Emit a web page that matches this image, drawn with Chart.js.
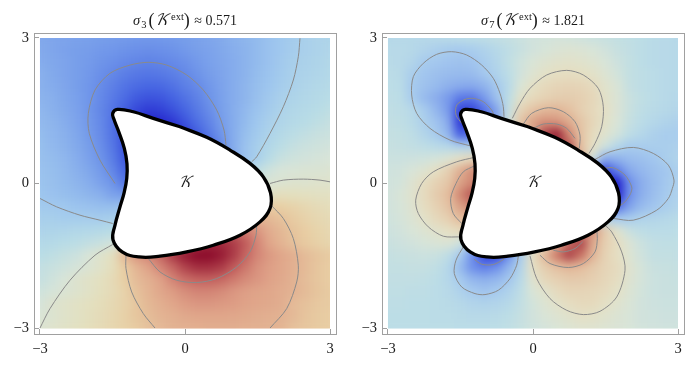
<!DOCTYPE html>
<html>
<head>
<meta charset="utf-8">
<style>
body { margin: 0; background: #fff; }
canvas { display: block; position: absolute; top: 0; }
</style>
<script src="https://cdn.jsdelivr.net/npm/chart.js@4/dist/chart.umd.min.js"></script>
</head>
<body>
<canvas id="leftChart" width="348" height="370" style="left:0"></canvas>
<canvas id="rightChart" width="349" height="370" style="left:348px"></canvas>
<script>
// grid of the colour field, y runs from top to bottom row
const gridX = [-3,-2.75,-2.5,-2.25,-2,-1.75,-1.5,-1.25,-1,-.75,-.5,-.25,0,.25,.5,.75,1,1.25,1.5,1.75,2,2.25,2.5,2.75,3];
const gridY = [3,2.75,2.5,2.25,2,1.75,1.5,1.25,1,.75,.5,.25,0,-.25,-.5,-.75,-1,-1.25,-1.5,-1.75,-2,-2.25,-2.5,-2.75,-3];
const tickValues = [-3, 0, 3];

const leftField = [
[-42,-43,-44,-45,-46,-47,-48,-49,-50,-50,-50,-49,-47,-45,-43,-41,-38,-35,-32,-28,-25,-22,-19,-17,-16],
[-41,-43,-45,-47,-48,-50,-51,-53,-54,-55,-54,-53,-50,-47,-45,-42,-39,-36,-32,-28,-25,-21,-19,-17,-15],
[-40,-42,-44,-47,-49,-52,-54,-57,-59,-60,-59,-57,-54,-50,-46,-43,-40,-36,-32,-28,-24,-20,-18,-16,-14],
[-38,-41,-44,-47,-50,-54,-58,-62,-65,-66,-65,-62,-58,-53,-48,-44,-40,-36,-31,-27,-23,-19,-17,-15,-13],
[-37,-40,-43,-47,-51,-56,-61,-67,-71,-73,-72,-68,-62,-57,-51,-45,-40,-35,-30,-26,-21,-18,-15,-13,-12],
[-36,-38,-42,-46,-51,-57,-64,-71,-78,-81,-80,-75,-68,-61,-53,-46,-40,-35,-29,-24,-19,-16,-14,-12,-10],
[-34,-37,-41,-45,-51,-58,-66,-76,-85,-90,-88,-82,-74,-65,-56,-47,-40,-33,-27,-22,-17,-14,-12,-10,-8],
[-33,-35,-39,-44,-50,-57,-67,-78,-92,-100,-98,-92,-81,-70,-60,-49,-40,-32,-25,-19,-15,-12,-10,-8,-6],
[-31,-34,-37,-42,-49,-56,-67,-80,-92,-96,-98,-100,-92,-78,-65,-52,-40,-30,-23,-17,-12,-9,-7,-5,-4],
[-30,-33,-36,-41,-47,-54,-65,-80,-90,-92,-95,-98,-100,-92,-75,-58,-40,-28,-20,-14,-9,-6,-4,-3,-2],
[-29,-31,-34,-39,-45,-52,-62,-78,-88,-90,-92,-95,-98,-100,-90,-65,-42,-28,-20,-10,-5,-3,-2,-1,0],
[-28,-30,-33,-37,-42,-49,-58,-72,-78,-80,-80,-75,-70,-60,-50,-40,-25,-15,-8,-3,0,1,2,2,3],
[-27,-29,-32,-35,-39,-45,-52,-65,-68,-65,-60,-50,-40,-30,-20,-10,-5,-2,0,2,3,4,4,5,5],
[-26,-28,-30,-32,-35,-38,-45,-48,-48,-40,-30,-20,-10,0,5,8,8,8,7,7,12,11,10,9,9],
[-23,-24,-25,-27,-28,-30,-30,-28,-25,-15,-5,5,15,20,25,25,28,28,25,28,25,22,18,15,13],
[-20,-20,-21,-21,-21,-21,-20,-18,-15,-5,5,15,25,35,40,45,50,45,40,38,33,27,22,18,16],
[-17,-16,-15,-14,-13,-12,-10,-8,-5,5,15,30,45,55,65,70,70,65,55,45,38,31,26,21,18],
[-13,-12,-10,-9,-7,-5,-2,2,5,15,30,50,70,85,90,90,85,75,60,48,40,33,28,23,20],
[-10,-8,-6,-4,0,5,10,38,55,60,70,85,95,100,100,95,85,72,60,53,48,43,36,31,27],
[-7,-5,-3,-1,2,6,12,26,40,50,60,70,82,88,88,85,75,65,56,51,47,42,36,30,26],
[-6,-3,0,4,7,10,15,25,36,42,50,60,68,72,73,70,64,58,54,50,46,41,35,30,26],
[-3,-1,2,4,7,11,15,22,32,40,47,52,57,60,60,58,54,51,49,47,44,41,36,31,27],
[-1,4,6,8,10,13,17,22,30,38,43,48,52,54,54,53,52,50,48,46,44,36,33,29,27],
[1,3,6,8,11,14,18,23,30,35,40,43,46,48,48,48,47,46,44,43,41,37,31,28,26],
[3,5,7,9,12,15,19,23,27,33,37,41,42,43,44,44,44,43,42,41,40,33,30,28,26]
];

const rightField = [
[-19,-19,-19,-19,-18,-17,-16,-15,-14,-12,-10,-7,-4,-3,-2,-3,-5,-7,-9,-11,-13,-15,-17,-18,-19],
[-18,-18,-19,-22,-26,-29,-30,-28,-24,-19,-14,-9,-4,-1,3,6,4,0,-4,-9,-12,-15,-17,-18,-19],
[-17,-18,-21,-29,-31,-33,-34,-33,-28,-21,-13,-5,2,8,13,14,12,7,0,-6,-11,-15,-17,-18,-19],
[-16,-17,-27,-32,-35,-37,-38,-37,-31,-24,-15,-4,7,17,21,22,21,16,6,-3,-11,-14,-16,-18,-19],
[-15,-16,-29,-34,-38,-43,-46,-47,-42,-31,-18,2,19,25,28,29,28,24,12,2,-10,-14,-16,-18,-19],
[-14,-15,-28,-38,-45,-55,-67,-68,-55,-35,-15,15,25,30,33,34,32,27,15,3,-8,-13,-16,-18,-20],
[-13,-14,-18,-28,-40,-54,-85,-85,-70,-50,-10,28,40,47,48,42,32,25,18,3,-8,-14,-17,-19,-21],
[-12,-13,-17,-25,-33,-46,-90,-85,-70,-50,-5,40,55,62,60,52,38,27,16,1,-10,-16,-20,-23,-25],
[-10,-11,-14,-21,-29,-40,-75,-70,-60,-40,-20,10,50,85,95,65,40,23,10,-3,-14,-20,-25,-28,-28],
[-9,-10,-12,-14,-17,-20,-24,-25,-15,-5,5,20,45,70,85,80,42,20,-5,-20,-29,-28,-27,-27,-25],
[-7,-7,-6,-5,-2,5,18,25,25,25,25,30,45,60,70,70,50,-5,-45,-42,-37,-35,-32,-27,-23],
[-5,-4,0,8,20,32,50,62,65,60,50,45,45,30,10,-10,-30,-60,-85,-65,-47,-40,-35,-32,-26],
[-4,-3,8,22,30,38,55,65,70,60,40,20,0,-20,-35,-50,-65,-80,-95,-100,-60,-45,-37,-31,-25],
[-4,0,10,24,34,44,65,80,70,50,30,10,-10,-30,-50,-60,-75,-90,-95,-100,-60,-44,-36,-30,-24],
[-4,-1,8,22,30,40,55,65,50,40,30,15,0,-20,-40,-60,-75,-85,-85,-70,-50,-38,-32,-27,-22],
[-5,-2,5,15,25,32,45,40,35,30,25,15,0,-10,-20,-30,-35,-30,-20,-28,-28,-23,-21,-19,-17],
[-6,-4,0,6,13,20,25,25,20,20,20,20,20,30,40,50,60,60,35,12,-8,-14,-16,-16,-15],
[-8,-6,-4,-1,2,4,-5,-30,-40,-40,-30,-20,0,20,50,75,85,52,32,22,4,-7,-12,-13,-13],
[-10,-9,-8,-7,-8,-14,-30,-60,-85,-85,-60,-28,22,47,70,85,72,48,30,21,6,-5,-11,-11,-12],
[-11,-11,-10,-10,-13,-20,-38,-60,-65,-60,-42,-22,20,33,42,47,44,36,28,24,10,-2,-8,-9,-10],
[-12,-12,-12,-13,-15,-20,-30,-40,-43,-40,-32,-18,10,26,31,35,35,32,27,22,8,-2,-7,-8,-9],
[-13,-13,-14,-14,-16,-18,-24,-30,-33,-30,-24,-14,2,12,24,28,28,27,24,17,5,-3,-7,-8,-8],
[-14,-14,-15,-15,-16,-17,-19,-22,-23,-22,-19,-12,-3,6,15,22,25,25,19,10,2,-4,-6,-7,-7],
[-15,-15,-15,-15,-16,-16,-17,-18,-18,-17,-15,-10,-4,1,7,13,18,17,11,5,0,-4,-5,-6,-6],
[-15,-15,-15,-15,-15,-15,-16,-16,-16,-15,-13,-9,-5,-2,2,6,9,9,6,3,0,-3,-4,-5,-5]
];

const kiteOutline = [
[-.103,1.165],[.449,.946],[.931,.683],[1.345,.408],[1.62,.13],[1.77,-.2],[1.76,-.52],
[1.552,-.801],[1.138,-1.076],[.586,-1.283],[.035,-1.421],[-.517,-1.51],[-.95,-1.525],[-1.3,-1.42],
[-1.49,-1.17],[-1.448,-.869],[-1.345,-.49],[-1.26,-.2],[-1.205,.1],[-1.2,.4],[-1.255,.72],
[-1.37,1.06],[-1.47,1.32],[-1.496,1.442],[-1.401,1.525],[-1.07,1.475],[-.656,1.339],[-.103,1.165]
];

const leftContours = [
[[-1.448,-.007],[-1.759,.476],[-1.98,1.028],[-2,1.442],[-1.862,1.924],[-1.552,2.27],[-1.138,2.44],[-.759,2.497],[-.379,2.44],[.035,2.235],[.379,1.924],[.656,1.51],[.807,1.097],[.848,.786]],
[[2.379,2.994],[2.344,2.613],[2.241,2.131],[2.034,1.579],[1.759,1.028],[1.483,.544],[1.38,.441]],
[[1.759,-.007],[2.034,.062],[2.448,.083],[2.793,.062],[3,.027]],
[[-3,-.317],[-2.655,-.49],[-2.173,-.662],[-1.759,-.766],[-1.496,-.834]],
[[-3,-2.994],[-2.793,-2.593],[-2.379,-2.007],[-1.862,-1.49],[-1.496,-1.268]],
[[-1.221,-1.49],[-1.221,-1.765],[-1.103,-2.249],[-.863,-2.696],[-.621,-2.994]],
[[1.759,-2.994],[2.104,-2.593],[2.311,-2.042],[2.344,-1.697],[2.241,-1.144],[2.034,-.73],[1.794,-.47]],
[[-.759,-1.558],[-.517,-1.835],[-.172,-2.007],[.242,-2.055],[.656,-1.972],[1.07,-1.732],[1.345,-1.421],[1.469,-1.076],[1.483,-.834]]
];

const rightContours = [
[[-1.304,.772],[-1.717,.89],[-2.131,1.132],[-2.406,1.442],[-2.51,1.821],[-2.476,2.2],[-2.27,2.476],[-1.993,2.662],[-1.683,2.717],[-1.372,2.648],[-1.062,2.441],[-.821,2.166],[-.683,1.856],[-.614,1.579],[-.6,1.372]],
[[-1.475,1.235],[-1.593,1.407],[-1.579,1.614],[-1.407,1.732],[-1.235,1.752],[-1.028,1.683],[-.855,1.51],[-.807,1.407]],
[[-.428,1.339],[-.269,1.649],[-.062,1.959],[.283,2.235],[.697,2.331],[1.041,2.235],[1.351,1.959],[1.455,1.579],[1.421,1.166],[1.283,.821],[1.159,.614]],
[[-.2,1.221],[-.027,1.442],[.317,1.559],[.628,1.476],[.869,1.269],[.972,.993],[.959,.717]],
[[.007,1.132],[.214,1.221],[.49,1.221],[.697,1.132],[.869,.925]],
[[1.283,.49],[1.593,.648],[2.075,.738],[2.489,.614],[2.8,.372],[2.917,.062],[2.883,-.11],[2.8,-.317],[2.56,-.559],[2.075,-.766],[1.662,-.73]],
[[1.455,.304],[1.662,.317],[1.904,.166],[2.042,-.077],[2.02,-.213],[1.904,-.386],[1.794,-.469]],
[[-1.221,.531],[-1.579,.441],[-2.063,.234],[-2.303,-.007],[-2.427,-.352],[-2.373,-.627],[-2.166,-.904],[-1.856,-1.097],[-1.51,-1.111]],
[[-1.221,.352],[-1.442,.234],[-1.593,-.007],[-1.703,-.317],[-1.65,-.627],[-1.475,-.834]],
[[-1.442,-1.318],[-1.593,-1.593],[-1.628,-1.869],[-1.475,-2.146],[-1.2,-2.283],[-.993,-2.303],[-.718,-2.214],[-.476,-1.973],[-.337,-1.697],[-.304,-1.504]],
[[-1.221,-1.573],[-1.062,-1.676],[-.821,-1.683],[-.6,-1.573]],
[[-.062,-1.504],[.076,-1.973],[.352,-2.386],[.697,-2.628],[1.041,-2.717],[1.386,-2.649],[1.732,-2.352],[1.904,-1.8],[1.835,-1.421],[1.628,-1.008],[1.49,-.869]],
[[.145,-1.49],[.352,-1.662],[.73,-1.744],[1.041,-1.662],[1.283,-1.421],[1.331,-1.145],[1.318,-.973]],
[[.42,-1.386],[.628,-1.421],[.869,-1.352],[1.028,-1.214]]
];

const leftStops = [
[-100,'#2222cc'],[-75,'#4463e2'],[-50,'#7399ea'],[-25,'#a0c8ee'],[-10,'#b8dce6'],[0,'#d8e4d8'],
[10,'#e3e0c0'],[25,'#e8cfa4'],[50,'#dfa288'],[75,'#c05a5a'],[100,'#8b0a2a']
];
const rightStops = [
[-100,'#2020cc'],[-80,'#3a50e0'],[-60,'#6f90ea'],[-30,'#a6caee'],[-15,'#bcdde6'],[0,'#d8e4d8'],
[20,'#e5e0c4'],[45,'#e4bc9c'],[70,'#cc7a68'],[100,'#8b0a2a']
];

const serif = '"Liberation Serif", serif';
const frameColor = '#a0a0a0';
const contourColor = '#8a8a8a';

function hexToRgb(hex) {
    return [1, 3, 5].map((i) => parseInt(hex.slice(i, i + 2), 16));
}

function fieldColor(v, stops) {
    for (let i = 1; i < stops.length; i++) {
        if (v <= stops[i][0]) {
            const a = stops[i - 1], b = stops[i];
            const t = (v - a[0]) / (b[0] - a[0]);
            const ca = hexToRgb(a[1]), cb = hexToRgb(b[1]);
            return 'rgb(' + ca.map((c, k) => Math.round(c + (cb[k] - c) * t)).join(',') + ')';
        }
    }
    return stops[stops.length - 1][1];
}

function toPoints(list) {
    return list.map((p) => ({x: p[0], y: p[1]}));
}

// cells are blurred right after they are drawn, everything else comes later
const smoothField = {
    id: 'smoothField',
    afterDatasetDraw(chart, args) {
        if (args.index !== 0) return;
        const {ctx, canvas} = chart;
        const {x, y} = chart.scales;
        const copy = document.createElement('canvas');
        copy.width = canvas.width;
        copy.height = canvas.height;
        copy.getContext('2d').drawImage(canvas, 0, 0);
        ctx.save();
        ctx.clearRect(0, 0, canvas.width, canvas.height);
        ctx.beginPath();
        ctx.rect(x.getPixelForValue(-3), y.getPixelForValue(3),
            x.getPixelForValue(3) - x.getPixelForValue(-3), y.getPixelForValue(-3) - y.getPixelForValue(3));
        ctx.clip();
        ctx.filter = 'blur(5px)';
        for (let i = 0; i < 3; i++) ctx.drawImage(copy, 0, 0);
        ctx.restore();
    }
};

const frameAndLabels = {
    id: 'frameAndLabels',
    afterDraw(chart, args, opts) {
        const {ctx, chartArea} = chart;
        const {x, y} = chart.scales;
        ctx.save();
        ctx.strokeStyle = frameColor;
        ctx.lineWidth = 1;
        ctx.strokeRect(chartArea.left + .5, chartArea.top + .5, chartArea.width, chartArea.height);

        ctx.fillStyle = '#1a1a1a';
        ctx.textBaseline = 'alphabetic';
        ctx.textAlign = 'center';
        ctx.font = 'italic 15px "DejaVu Math TeX Gyre", ' + serif;
        ctx.fillText('𝒦', x.getPixelForValue(0), y.getPixelForValue(0) + 4);

        // title pieces: [text, font, baseline shift, extra gap after]
        const base = 24.5;
        const pieces = [
            ['σ', 'italic 14.5px ' + serif, 0, 1],
            [opts.index, '10.5px ' + serif, 3, 2],
            ['(', '18px ' + serif, 1, 0],
            ['𝒦', 'italic 15.5px "DejaVu Math TeX Gyre", ' + serif, 0, 2],
            ['ext', '10.5px ' + serif, -5, 0],
            [')', '18px ' + serif, 1, 1],
            [' ≈ ' + opts.value, '14px ' + serif, 0, 0]
        ];
        let width = 0;
        pieces.forEach((p) => {
            ctx.font = p[1];
            width += ctx.measureText(p[0]).width + p[3];
        });
        let px = (chartArea.left + chartArea.right) / 2 - width / 2;
        ctx.textAlign = 'left';
        pieces.forEach((p) => {
            ctx.font = p[1];
            ctx.fillText(p[0], px, base + p[2]);
            px += ctx.measureText(p[0]).width + p[3];
        });
        ctx.restore();
    }
};

function scaleOptions(min, max, fitSide) {
    return {
        type: 'linear',
        min: min,
        max: max,
        afterBuildTicks: (axis) => { axis.ticks = tickValues.map((v) => ({value: v})); },
        afterFit: (axis) => { axis[fitSide] = fitSide === 'width' ? 34 : 36; },
        grid: {z: 1, drawOnChartArea: false, drawTicks: true, tickLength: -5, color: frameColor},
        border: {z: 1, color: frameColor},
        ticks: {
            z: 1,
            autoSkip: false,
            maxRotation: 0,
            padding: fitSide === 'width' ? 10 : 11,
            color: '#1a1a1a',
            font: {family: serif, size: 14.5},
            callback: (v) => String(v).replace('-', '−')
        }
    };
}

function drawPanel(canvasId, field, stops, contours, titleIndex, titleValue) {
    const cells = [];
    const cellColors = [];
    gridY.forEach((yv, r) => {
        gridX.forEach((xv, c) => {
            cells.push({x: xv, y: yv});
            cellColors.push(fieldColor(field[r][c], stops));
        });
    });

    const datasets = [{
        label: 'field',
        data: cells,
        order: 3,
        clip: false,
        showLine: false,
        pointStyle: 'rect',
        pointRadius: 9.2,
        pointBorderWidth: 0,
        pointBackgroundColor: cellColors
    }];
    contours.forEach((c, i) => {
        datasets.push({
            label: 'contour ' + (i + 1),
            data: toPoints(c),
            order: 2,
            showLine: true,
            tension: .3,
            pointRadius: 0,
            borderWidth: 1,
            borderColor: contourColor
        });
    });
    datasets.push({
        label: 'kite',
        data: toPoints(kiteOutline),
        order: 1,
        showLine: true,
        tension: .42,
        pointRadius: 0,
        borderWidth: 3.3,
        borderColor: '#000',
        borderJoinStyle: 'round',
        backgroundColor: '#fff',
        fill: 'shape'
    });

    new Chart(document.getElementById(canvasId), {
        type: 'scatter',
        data: {datasets: datasets},
        plugins: [smoothField, frameAndLabels],
        options: {
            responsive: false,
            animation: false,
            layout: {padding: {top: 33, right: canvasId === 'leftChart' ? 12 : 13, left: 0, bottom: 0}},
            scales: {
                x: scaleOptions(-3.124, 3.124, 'height'),
                y: scaleOptions(-3.118, 3.103, 'width')
            },
            plugins: {
                legend: {display: false},
                tooltip: {enabled: false},
                frameAndLabels: {index: titleIndex, value: titleValue}
            }
        }
    });
}

drawPanel('leftChart', leftField, leftStops, leftContours, '3', '0.571');
drawPanel('rightChart', rightField, rightStops, rightContours, '7', '1.821');
</script>
</body>
</html>
